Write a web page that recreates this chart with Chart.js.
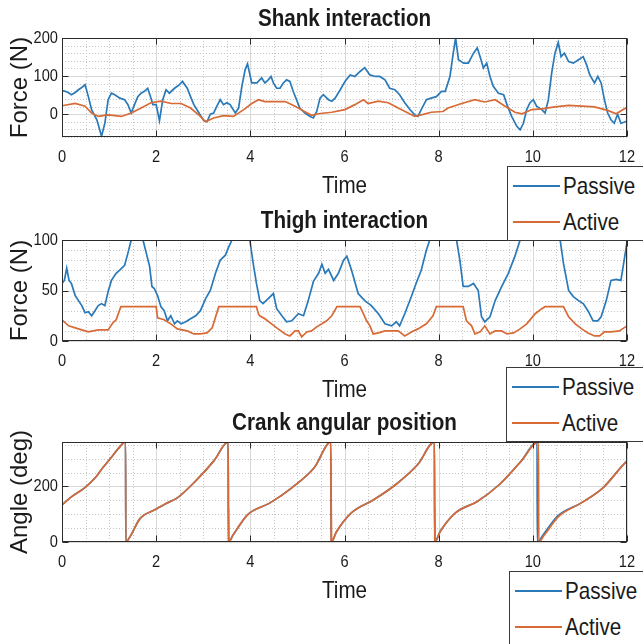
<!DOCTYPE html>
<html lang="en">
<head>
<meta charset="UTF-8">
<title>Shank, thigh and crank</title>
<script src="https://cdn.jsdelivr.net/npm/chart.js"></script>
<style>
  body { margin: 0; background: #fff; }
  #page { position: relative; width: 643px; height: 644px; overflow: hidden; background: #fff; }
  #page canvas { position: absolute; left: 0; }
  .legend { position: absolute; width: 150px; background: #fff; border: 1px solid #3a3a3a;
            font-family: "Liberation Sans", Arial, sans-serif; font-size: 24px; color: #1a1a1a; }
  .legend .row { position: absolute; left: 5px; height: 30px; display: flex; align-items: center; }
  .legend .swatch { width: 47px; height: 2px; margin-right: 3px; }
  .legend .label { display: inline-block; transform: scaleX(0.86); transform-origin: left center; }
</style>
</head>
<body>
<div id="page">
  <canvas id="shankChart" width="643" height="200" style="top:0"></canvas>
  <canvas id="thighChart" width="643" height="202" style="top:202px"></canvas>
  <canvas id="crankChart" width="643" height="201" style="top:404px"></canvas>
</div>
<script>
// x axis shared by all three panels (seconds)
const timeTicks = [0, 2, 4, 6, 8, 10, 12];

// Shank interaction force (N)
const shankPassiveT = [0, 0.07, 0.14, 0.2, 0.28, 0.35, 0.42, 0.49, 0.56, 0.63, 0.74, 0.84, 0.91, 0.98, 1.05, 1.12, 1.23, 1.33, 1.4, 1.47,
  1.54, 1.61, 1.68, 1.75, 1.82, 1.89, 1.93, 2.0, 2.07, 2.14, 2.21, 2.28, 2.39, 2.49, 2.56, 2.66, 2.73, 2.8, 2.91, 3.01,
  3.08, 3.15, 3.22, 3.29, 3.36, 3.43, 3.5, 3.57, 3.68, 3.75, 3.82, 3.89, 3.94, 4.03, 4.14, 4.24, 4.31, 4.38, 4.44, 4.49,
  4.56, 4.63, 4.7, 4.77, 4.84, 4.91, 4.98, 5.05, 5.16, 5.27, 5.34, 5.41, 5.48, 5.55, 5.66, 5.73, 5.8, 5.91, 6.01, 6.12,
  6.22, 6.33, 6.43, 6.54, 6.65, 6.75, 6.86, 6.96, 7.07, 7.17, 7.28, 7.39, 7.49, 7.56, 7.63, 7.74, 7.84, 7.95, 8.06, 8.14,
  8.24, 8.31, 8.36, 8.42, 8.53, 8.63, 8.74, 8.82, 8.88, 8.95, 9.02, 9.09, 9.16, 9.27, 9.38, 9.45, 9.55, 9.66, 9.73, 9.8,
  9.87, 9.94, 10.01, 10.08, 10.19, 10.26, 10.33, 10.4, 10.47, 10.54, 10.6, 10.67, 10.76, 10.86, 10.97, 11.07, 11.14, 11.21, 11.31, 11.38,
  11.45, 11.52, 11.59, 11.66, 11.73, 11.8, 11.87, 11.97, 12.0];
const shankPassiveF = [62, 60, 56, 51, 57, 64, 70, 77, 46, 11, -15, -58, -24, 38, 55, 51, 42, 38, 25, 3,
  25, 46, 55, 60, 68, 42, 25, 25, -17, 38, 64, 55, 68, 77, 86, 68, 46, 25, 3, -17,
  -20, 0, 3, 21, 38, 25, 30, 25, 3, 16, 73, 117, 132, 82, 82, 95, 82, 90, 99, 82,
  68, 68, 82, 90, 86, 60, 38, 16, 3, -6, -10, 7, 42, 51, 38, 34, 42, 64, 86, 103,
  99, 112, 122, 103, 99, 99, 90, 68, 64, 51, 30, 12, -2, -6, 12, 38, 42, 46, 60, 60,
  99, 160, 200, 143, 134, 134, 160, 174, 151, 121, 134, 99, 73, 55, 51, 25, -6, -32, -41, -24,
  12, 30, 38, 21, 12, 3, 38, 108, 160, 188, 151, 160, 138, 134, 143, 151, 130, 103, 82, 99,
  82, 38, 3, -15, -24, 0, -24, -20, -18];
const shankActiveT = [0, 0.28, 0.49, 0.63, 0.77, 0.98, 1.26, 1.47, 1.68, 1.89, 2.1, 2.32, 2.53, 2.73, 2.94, 3.05, 3.22, 3.43, 3.64, 3.86,
  4.03, 4.17, 4.31, 4.74, 4.95, 5.13, 5.3, 5.44, 5.73, 6.01, 6.22, 6.4, 6.5, 6.72, 6.93, 7.14, 7.35, 7.49, 7.63, 7.84,
  8.09, 8.2, 8.49, 8.77, 8.98, 9.2, 9.41, 9.62, 9.77, 9.98, 10.19, 10.47, 10.76, 11.04, 11.31, 11.59, 11.77, 11.97, 12.0];
const shankActiveF = [22, 28, 21, 3, -6, -2, -6, 3, 16, 30, 34, 28, 28, 16, -6, -20, -10, -4, -6, 12,
  28, 38, 33, 33, 21, 8, -3, 1, 5, 12, 25, 38, 28, 34, 30, 16, 3, -6, -2, 5,
  7, 16, 28, 38, 32, 38, 21, 5, 1, 12, 14, 19, 23, 21, 19, 10, 1, 16, 17];

// Thigh interaction force (N)
const thighPassiveT = [0, 0.05, 0.1, 0.15, 0.2, 0.28, 0.35, 0.42, 0.49, 0.56, 0.63, 0.7, 0.77, 0.84, 0.91, 0.98, 1.05, 1.15, 1.22, 1.33,
  1.4, 1.47, 1.72, 1.79, 1.86, 1.91, 1.96, 2.03, 2.1, 2.17, 2.24, 2.31, 2.39, 2.45, 2.53, 2.63, 2.73, 2.84, 2.94, 3.05,
  3.15, 3.26, 3.36, 3.47, 3.54, 3.61, 3.99, 4.06, 4.13, 4.2, 4.27, 4.38, 4.49, 4.56, 4.67, 4.77, 4.88, 5.02, 5.13, 5.23,
  5.34, 5.45, 5.52, 5.59, 5.66, 5.77, 5.87, 5.98, 6.05, 6.15, 6.29, 6.43, 6.57, 6.72, 6.86, 7.0, 7.1, 7.17, 7.28, 7.42,
  7.52, 7.63, 7.74, 7.81, 8.38, 8.45, 8.52, 8.63, 8.74, 8.84, 8.91, 8.98, 9.09, 9.2, 9.34, 9.48, 9.62, 9.73, 10.58, 10.65,
  10.76, 10.86, 10.97, 11.07, 11.17, 11.28, 11.38, 11.45, 11.56, 11.66, 11.77, 11.87, 11.94, 12.0];
const thighPassiveF = [57, 60, 72, 60, 57, 45, 40, 35, 28, 29, 25, 30, 35, 37, 35, 49, 60, 67, 70, 75,
  87, 100, 100, 87, 74, 54, 52, 45, 34, 30, 20, 25, 17, 20, 17, 19, 22, 25, 30, 42,
  50, 67, 80, 85, 93, 100, 100, 77, 57, 40, 37, 42, 47, 32, 25, 19, 20, 27, 25, 40,
  59, 67, 76, 67, 71, 60, 67, 80, 84, 70, 47, 40, 35, 27, 17, 15, 19, 15, 27, 44,
  57, 70, 90, 100, 100, 80, 54, 54, 57, 50, 24, 19, 24, 40, 54, 67, 84, 100, 100, 77,
  50, 44, 40, 37, 30, 20, 20, 24, 40, 60, 61, 60, 80, 98];
const thighActiveT = [0, 0.14, 0.35, 0.56, 0.77, 0.98, 1.08, 1.15, 1.25, 2.0, 2.03, 2.17, 2.31, 2.45, 2.66, 2.8, 2.94, 3.08, 3.19, 3.33,
  4.13, 4.17, 4.2, 4.31, 4.45, 4.59, 4.74, 4.84, 4.95, 5.02, 5.09, 5.2, 5.3, 5.41, 5.52, 5.62, 5.73, 5.84, 6.33, 6.4,
  6.47, 6.54, 6.61, 6.72, 6.86, 7.0, 7.14, 7.28, 7.42, 7.56, 7.74, 7.88, 7.95, 8.52, 8.59, 8.7, 8.77, 8.88, 8.98, 9.09,
  9.2, 9.34, 9.45, 9.59, 9.73, 9.87, 10.05, 10.19, 10.26, 10.65, 10.76, 10.9, 11.04, 11.17, 11.31, 11.42, 11.52, 11.66, 11.84, 12.0];
const thighActiveF = [21, 15, 12, 9, 11, 11, 18, 21, 34, 34, 23, 21, 17, 12, 10, 7, 7, 8, 13, 34,
  34, 27, 25, 22, 17, 12, 7, 5, 10, 10, 4, 9, 10, 14, 17, 20, 25, 34, 34, 27,
  20, 15, 7, 8, 10, 10, 10, 5, 9, 12, 17, 25, 34, 34, 20, 15, 7, 9, 15, 7,
  10, 10, 7, 8, 12, 17, 27, 32, 34, 34, 24, 17, 12, 8, 5, 5, 9, 9, 10, 15];

// Crank angular position (deg)
const crankPassiveT = [0, 0.22, 0.48, 0.72, 0.87, 1.05, 1.19, 1.35, 1.355, 1.44, 1.66, 1.97, 2.2, 2.45, 2.84, 3.23, 3.53, 3.535, 3.63, 3.94,
  4.41, 4.88, 5.36, 5.71, 5.715, 5.83, 6.14, 6.62, 7.09, 7.56, 7.91, 7.915, 8.03, 8.35, 8.82, 9.29, 9.76, 10.09, 10.095, 10.22,
  10.53, 11.02, 11.49, 11.97, 12.0];
const crankPassiveA = [134, 165, 195, 234, 268, 305, 335, 360, 0, 18, 85, 116, 138, 159, 220, 293, 360, 0, 24, 98,
  140, 195, 268, 360, 0, 37, 104, 152, 207, 280, 360, 0, 37, 104, 146, 207, 293, 360, 0, 26,
  94, 140, 195, 287, 291];
const crankActiveT = [0, 0.22, 0.48, 0.72, 0.87, 1.05, 1.19, 1.35, 1.355, 1.44, 1.66, 1.97, 2.2, 2.45, 2.84, 3.23, 3.53, 3.535, 3.54, 3.545,
  3.63, 3.94, 4.41, 4.88, 5.36, 5.71, 5.715, 5.72, 5.725, 5.83, 6.14, 6.62, 7.09, 7.56, 7.91, 7.915, 7.92, 7.925, 8.03, 8.35,
  8.82, 9.29, 9.76, 10.12, 10.125, 10.24, 10.55, 11.02, 11.49, 11.97, 12.0];
const crankActiveA = [134, 165, 195, 234, 268, 305, 335, 360, 0, 18, 85, 116, 138, 159, 220, 293, 360, 0, 122, 0,
  24, 98, 140, 195, 268, 360, 0, 125, 0, 37, 104, 152, 207, 280, 360, 0, 125, 0, 37, 104,
  146, 207, 293, 360, 0, 24, 92, 140, 195, 287, 291];

const passiveColor = '#2a79b8';
const activeColor = '#d86a35';
const textColor = '#1a1a1a';
const sans = '"Liberation Sans", Arial, sans-serif';
const squeeze = 0.86;   // horizontal text is set narrow

const pts = (ts, vs) => ts.map((t, i) => ({ x: t, y: vs[i] }));

function narrowText(ctx, text, x, y, font, align) {
  ctx.save();
  ctx.translate(x, y);
  ctx.scale(squeeze, 1);
  ctx.font = font;
  ctx.textAlign = align;
  ctx.textBaseline = 'middle';
  ctx.fillStyle = textColor;
  ctx.fillText(text, 0, 0);
  ctx.restore();
}

// dotted minor grid, solid major grid, boxed axes with inward ticks, labels and title
function panelPlugin(p) {
  const range = (a, b, s) => { const out = []; for (let v = a; v <= b + 1e-9; v += s) out.push(+v.toFixed(6)); return out; };
  return {
    id: 'panel',
    beforeDatasetsDraw(chart) {
      const { ctx, chartArea: a, scales: { x, y } } = chart;
      const vx = v => Math.round(x.getPixelForValue(v)) + 0.5;
      const vy = v => Math.round(y.getPixelForValue(v)) + 0.5;
      ctx.save();
      ctx.lineWidth = 1;
      ctx.strokeStyle = '#c6c6c6';
      ctx.setLineDash([1, 2]);
      ctx.beginPath();
      range(0, 12, 0.5).filter(v => v % 2 !== 0).forEach(v => { ctx.moveTo(vx(v), a.top); ctx.lineTo(vx(v), a.bottom); });
      range(p.yMin, p.yMax, p.minorStep).filter(v => !p.yTicks.includes(v)).forEach(v => { ctx.moveTo(a.left, vy(v)); ctx.lineTo(a.right, vy(v)); });
      ctx.stroke();
      ctx.setLineDash([]);
      ctx.strokeStyle = '#d8d8d8';
      ctx.beginPath();
      timeTicks.forEach(v => { ctx.moveTo(vx(v), a.top); ctx.lineTo(vx(v), a.bottom); });
      p.yTicks.forEach(v => { ctx.moveTo(a.left, vy(v)); ctx.lineTo(a.right, vy(v)); });
      ctx.stroke();
      ctx.restore();
    },
    afterDatasetsDraw(chart) {
      const { ctx, chartArea: a, scales: { x, y } } = chart;
      const L = Math.round(a.left) + 0.5, R = Math.round(a.right) - 0.5;
      const T = Math.round(a.top) + 0.5, B = Math.round(a.bottom) - 0.5;
      ctx.save();
      ctx.strokeStyle = '#2b2b2b';
      ctx.lineWidth = 1;
      ctx.strokeRect(L, T, R - L, B - T);
      ctx.beginPath();
      timeTicks.forEach(v => {
        const px = Math.round(x.getPixelForValue(v)) + 0.5;
        ctx.moveTo(px, T); ctx.lineTo(px, T + 6);
        ctx.moveTo(px, B); ctx.lineTo(px, B - 6);
      });
      p.yTicks.forEach(v => {
        const py = Math.round(y.getPixelForValue(v)) + 0.5;
        ctx.moveTo(L, py); ctx.lineTo(L + 6, py);
        ctx.moveTo(R, py); ctx.lineTo(R - 6, py);
      });
      ctx.stroke();
      ctx.restore();

      const tickFont = '17px ' + sans;
      x.ticks.forEach(t => narrowText(ctx, String(t.value), x.getPixelForValue(t.value), a.bottom + 20, tickFont, 'center'));
      y.ticks.forEach(t => narrowText(ctx, String(t.value), a.left - 4, y.getPixelForValue(t.value), tickFont, 'right'));
      narrowText(ctx, 'Time', (a.left + a.right) / 2, a.bottom + 49, '24px ' + sans, 'center');
      narrowText(ctx, p.title, (a.left + a.right) / 2, a.top - 19, 'bold 24px ' + sans, 'center');
    }
  };
}

function makeChart(id, p) {
  const line = { borderWidth: 1.7, pointRadius: 0, fill: false, tension: 0,
                 cubicInterpolationMode: p.smooth ? 'monotone' : 'default' };
  return new Chart(document.getElementById(id), {
    type: 'line',
    data: {
      datasets: [
        { label: 'Passive', data: p.passive, borderColor: passiveColor, order: 1, ...line },
        { label: 'Active', data: p.active, borderColor: activeColor, order: 0, ...line }
      ]
    },
    options: {
      responsive: false,
      animation: false,
      events: [],
      layout: { padding: { top: 38, right: 16, bottom: 0, left: 0 } },
      plugins: { legend: { display: false }, tooltip: { enabled: false }, title: { display: false } },
      scales: {
        x: {
          type: 'linear', min: 0, max: 12,
          grid: { display: false }, border: { display: false },
          afterBuildTicks: s => { s.ticks = timeTicks.map(v => ({ value: v })); },
          afterFit: s => { s.height = 63; },
          ticks: { display: false }
        },
        y: {
          min: p.yMin, max: p.yMax,
          grid: { display: false }, border: { display: false },
          afterBuildTicks: s => { s.ticks = p.yTicks.map(v => ({ value: v })); },
          afterFit: s => { s.width = 62; },
          ticks: { display: false },
          title: { display: true, text: p.yTitle, color: textColor,
                   font: { family: sans, size: 24 }, padding: { top: 6, bottom: 0 } }
        }
      }
    },
    plugins: [panelPlugin(p)]
  });
}

const charts = [
  makeChart('shankChart', { title: 'Shank interaction', yTitle: 'Force (N)', yMin: -60, yMax: 200, yTicks: [0, 100, 200], minorStep: 20,
    passive: pts(shankPassiveT, shankPassiveF), active: pts(shankActiveT, shankActiveF) }),
  makeChart('thighChart', { title: 'Thigh interaction', yTitle: 'Force (N)', yMin: 0, yMax: 100, yTicks: [0, 50, 100], minorStep: 10,
    passive: pts(thighPassiveT, thighPassiveF), active: pts(thighActiveT, thighActiveF) }),
  makeChart('crankChart', { title: 'Crank angular position', yTitle: 'Angle (deg)', yMin: 0, yMax: 360, yTicks: [0, 200], minorStep: 50, smooth: true,
    passive: pts(crankPassiveT, crankPassiveA), active: pts(crankActiveT, crankActiveA) })
];

// legend boxes, one per panel, built from the dataset labels and colours
const legendBoxes = [
  { left: 507, top: 166, height: 73 },
  { left: 506, top: 367, height: 73 },
  { left: 509, top: 571, height: 80 }
];
legendBoxes.forEach((b, i) => {
  const box = document.createElement('div');
  box.className = 'legend';
  Object.assign(box.style, { left: b.left + 'px', top: b.top + 'px', height: b.height + 'px' });
  charts[i].data.datasets.forEach((ds, k) => {
    const row = document.createElement('div');
    row.className = 'row';
    row.style.top = (4 + k * 36) + 'px';
    const sw = document.createElement('span');
    sw.className = 'swatch';
    sw.style.background = ds.borderColor;
    const label = document.createElement('span');
    label.className = 'label';
    label.textContent = ds.label;
    row.append(sw, label);
    box.appendChild(row);
  });
  document.getElementById('page').appendChild(box);
});
</script>
</body>
</html>
